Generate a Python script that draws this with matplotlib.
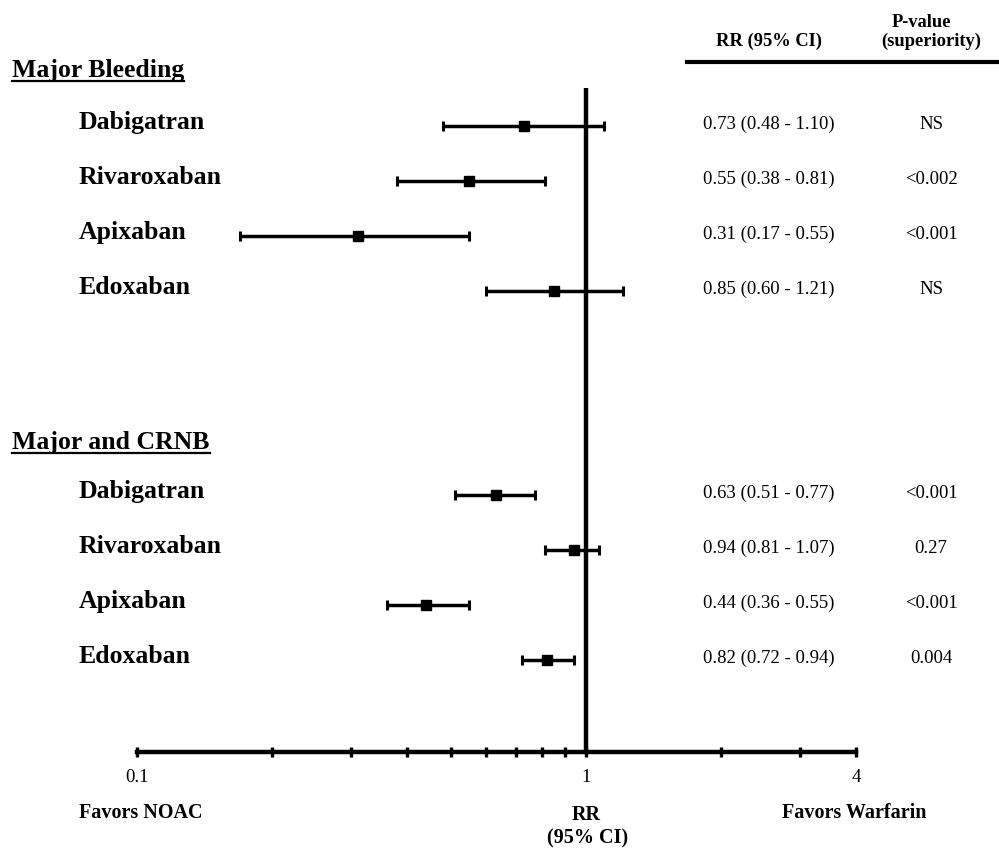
import matplotlib
matplotlib.use("Agg")
import matplotlib.pyplot as plt
import matplotlib.transforms as mtransforms
from matplotlib.lines import Line2D
import numpy as np

plt.rcParams['font.family'] = ['Liberation Serif', 'DejaVu Serif']

# Data
sections = ["Major Bleeding", "Major and CRNB"]
drugs = ["Dabigatran", "Rivaroxaban", "Apixaban", "Edoxaban"]
rr_bleed = [0.73, 0.55, 0.31, 0.85]
lo_bleed = [0.48, 0.38, 0.17, 0.60]
hi_bleed = [1.10, 0.81, 0.55, 1.21]
p_bleed = ["NS", "<0.002", "<0.001", "NS"]
rr_crnb = [0.63, 0.94, 0.44, 0.82]
lo_crnb = [0.51, 0.81, 0.36, 0.72]
hi_crnb = [0.77, 1.07, 0.55, 0.94]
p_crnb = ["<0.001", "0.27", "<0.001", "0.004"]
tick_vals = [0.1, 0.2, 0.3, 0.4, 0.5, 0.6, 0.7, 0.8, 0.9, 1, 2, 3, 4]
tick_labels = ["0.1", "", "", "", "", "", "", "", "", "1", "", "", "4"]

W, H = 999, 849
fig = plt.figure(figsize=(W / 100, H / 100), dpi=100)
ax = fig.add_axes([137 / W, 0, (856 - 137) / W, 1])
ax.set_xscale("log")
ax.set_xlim(0.1, 4)
ax.set_ylim(H, 0)  # y in pixel-like units from the top

# layout (pixel rows)
header_y = [70, 442]
first_row = [126, 495]
step = 55
axis_y = 752

trans = mtransforms.blended_transform_factory(fig.transFigure, ax.transData)

groups = [(rr_bleed, lo_bleed, hi_bleed, p_bleed), (rr_crnb, lo_crnb, hi_crnb, p_crnb)]
headers = []
for g, (rr, lo, hi, pv) in enumerate(groups):
    rr = np.array(rr)
    lo = np.array(lo)
    hi = np.array(hi)
    ys = first_row[g] + step * np.arange(len(rr))
    ax.errorbar(rr, ys, xerr=[rr - lo, hi - rr], fmt="s", color="black",
                ms=7, elinewidth=2.5, capsize=3.3, capthick=2.2, zorder=3)
    headers.append(fig.text(12 / W, header_y[g], sections[g], transform=trans,
                            fontsize=18.5, fontweight="bold", va="center", ha="left"))
    for i, y in enumerate(ys):
        ax.text(79 / W, y + 3, drugs[i], transform=trans, fontsize=18.5,
                fontweight="bold", va="baseline", ha="left")
        ax.text(703 / W, y + 3, f"{rr[i]:.2f} ({lo[i]:.2f} - {hi[i]:.2f})",
                transform=trans, fontsize=13.5, va="baseline", ha="left")
        ax.text(931 / W, y + 3, pv[i], transform=trans, fontsize=13.5,
                va="baseline", ha="center")

# line of no effect
ax.vlines(1, 88, axis_y, color="black", lw=3.2, zorder=2)

# x axis
for s in ["left", "top", "right"]:
    ax.spines[s].set_visible(False)
ax.spines["bottom"].set_position(("data", axis_y))
ax.spines["bottom"].set_linewidth(3.2)
ax.set_yticks([])
ax.set_xticks(tick_vals)
ax.set_xticklabels(tick_labels)
ax.xaxis.set_minor_locator(matplotlib.ticker.NullLocator())
ax.tick_params(axis="x", direction="inout", length=7, width=2.4, pad=9, labelsize=13.5)

# column headers
fig.text(769 / W, 46, "RR (95% CI)", transform=trans, fontsize=13.3,
         fontweight="bold", ha="center", va="baseline")
fig.text(921 / W, 27, "P-value", transform=trans, fontsize=13.3,
         fontweight="bold", ha="center", va="baseline")
fig.text(931 / W, 46, "(superiority)", transform=trans, fontsize=13.3,
         fontweight="bold", ha="center", va="baseline")
fig.add_artist(Line2D([687 / W, 1], [1 - 62 / H, 1 - 62 / H], color="black", lw=3))

# bottom labels
fig.text(141 / W, 813, "Favors NOAC", transform=trans, fontsize=14.5,
         fontweight="bold", ha="center", va="center")
fig.text(586 / W, 815, "RR", transform=trans, fontsize=14.5,
         fontweight="bold", ha="center", va="center")
fig.text(588 / W, 838, "(95% CI)", transform=trans, fontsize=14.5,
         fontweight="bold", ha="center", va="center")
fig.text(854 / W, 813, "Favors Warfarin", transform=trans, fontsize=14.5,
         fontweight="bold", ha="center", va="center")

# underline section headers
fig.canvas.draw()
r = fig.canvas.get_renderer()
for t in headers:
    bb = t.get_window_extent(r).transformed(fig.transFigure.inverted())
    fig.add_artist(Line2D([bb.x0, bb.x1], [bb.y0 + 0.001, bb.y0 + 0.001],
                          color="black", lw=1.6))

fig.savefig("out.png", dpi=100)
